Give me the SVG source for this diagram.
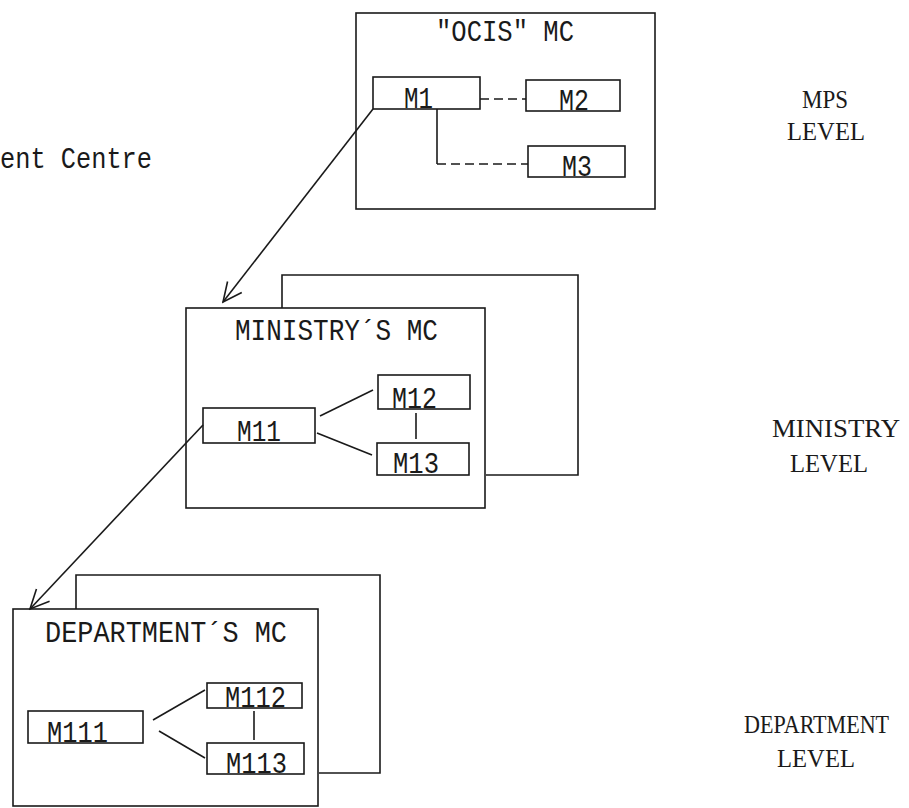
<svg xmlns="http://www.w3.org/2000/svg" width="909" height="808" viewBox="0 0 909 808">
<style>
  .bx{fill:none;stroke:#1a1a1a;stroke-width:1.6}
  .ln{fill:none;stroke:#1a1a1a;stroke-width:1.6}
  .dash{stroke-dasharray:9 5}
  .t{font-family:"Liberation Mono","DejaVu Sans Mono",monospace;font-size:29px;fill:#1a1a1a}
  .lbl{font-family:"Liberation Serif","DejaVu Serif",serif;font-size:26px;fill:#1a1a1a}
</style>
<defs>
  <marker id="arr" markerWidth="24" markerHeight="24" viewBox="-22 -12 24 24" refX="0" refY="0" orient="auto" markerUnits="userSpaceOnUse">
    <path d="M-19,-9 L0,0 L-19,9" fill="none" stroke="#1a1a1a" stroke-width="1.6"/>
  </marker>
</defs>
<rect width="909" height="808" fill="#fff"/>

<text class="t" x="0" y="168" textLength="152" lengthAdjust="spacingAndGlyphs">ent Centre</text>

<g id="ocis-mc">
  <rect class="bx" x="356" y="13" width="299" height="196"/>
  <text class="t" x="436" y="41" textLength="138" lengthAdjust="spacingAndGlyphs">"OCIS" MC</text>
</g>
<g id="M1">
  <rect class="bx" x="373" y="77" width="107" height="32"/>
  <text class="t" x="404" y="108" textLength="29" lengthAdjust="spacingAndGlyphs">M1</text>
</g>
<g id="M2">
  <rect class="bx" x="526" y="80" width="94" height="31"/>
  <text class="t" x="559" y="110" textLength="30" lengthAdjust="spacingAndGlyphs">M2</text>
</g>
<g id="M3">
  <rect class="bx" x="528" y="146" width="97" height="31"/>
  <text class="t" x="562" y="176" textLength="30" lengthAdjust="spacingAndGlyphs">M3</text>
</g>

<g id="ministry-mc">
  <path class="bx" d="M282,308 V275 H578 V475 H486"/>
  <rect class="bx" x="186" y="308" width="299" height="200"/>
  <text class="t" x="235" y="340" textLength="203" lengthAdjust="spacingAndGlyphs">MINISTRY´S MC</text>
</g>
<g id="M11">
  <rect class="bx" x="203" y="408" width="112" height="35"/>
  <text class="t" x="237" y="441" textLength="44" lengthAdjust="spacingAndGlyphs">M11</text>
</g>
<g id="M12">
  <rect class="bx" x="378" y="375" width="92" height="34"/>
  <text class="t" x="392" y="408" textLength="45" lengthAdjust="spacingAndGlyphs">M12</text>
</g>
<g id="M13">
  <rect class="bx" x="377" y="443" width="92" height="32"/>
  <text class="t" x="393" y="473" textLength="46" lengthAdjust="spacingAndGlyphs">M13</text>
</g>

<g id="department-mc">
  <path class="bx" d="M76,609 V575 H380 V773 H319"/>
  <rect class="bx" x="13" y="609" width="305" height="197"/>
  <text class="t" x="45" y="642" textLength="242" lengthAdjust="spacingAndGlyphs">DEPARTMENT´S MC</text>
</g>
<g id="M111">
  <rect class="bx" x="28" y="711" width="115" height="32"/>
  <text class="t" x="47" y="742" textLength="61" lengthAdjust="spacingAndGlyphs">M111</text>
</g>
<g id="M112">
  <rect class="bx" x="207" y="683" width="95" height="25"/>
  <text class="t" x="225" y="707" textLength="61" lengthAdjust="spacingAndGlyphs">M112</text>
</g>
<g id="M113">
  <rect class="bx" x="207" y="743" width="97" height="31"/>
  <text class="t" x="226" y="773" textLength="61" lengthAdjust="spacingAndGlyphs">M113</text>
</g>

<g id="level-labels">
  <text class="lbl" x="802" y="108" textLength="46" lengthAdjust="spacingAndGlyphs">MPS</text>
  <text class="lbl" x="787" y="140" textLength="78" lengthAdjust="spacingAndGlyphs">LEVEL</text>
  <text class="lbl" x="772" y="437" textLength="128" lengthAdjust="spacingAndGlyphs">MINISTRY</text>
  <text class="lbl" x="790" y="472" textLength="78" lengthAdjust="spacingAndGlyphs">LEVEL</text>
  <text class="lbl" transform="translate(744,733) scale(0.85,1)">DEPARTMENT</text>
  <text class="lbl" x="777" y="767" textLength="78" lengthAdjust="spacingAndGlyphs">LEVEL</text>
</g>

<g id="connectors">
  <line class="ln" x1="373" y1="109" x2="223" y2="302" marker-end="url(#arr)"/>
  <line class="ln" x1="203" y1="425" x2="30" y2="609" marker-end="url(#arr)"/>
  <line class="ln dash" x1="480" y1="99" x2="526" y2="99"/>
  <line class="ln" x1="437" y1="109" x2="437" y2="164"/>
  <line class="ln dash" x1="437" y1="164" x2="528" y2="164"/>
  <line class="ln" x1="320" y1="416" x2="373" y2="390"/>
  <line class="ln" x1="317" y1="433" x2="372" y2="455"/>
  <line class="ln" x1="416" y1="413" x2="416" y2="439"/>
  <line class="ln" x1="153" y1="720" x2="205" y2="690"/>
  <line class="ln" x1="159" y1="731" x2="205" y2="758"/>
  <line class="ln" x1="254" y1="711" x2="254" y2="740"/>
</g>
</svg>
